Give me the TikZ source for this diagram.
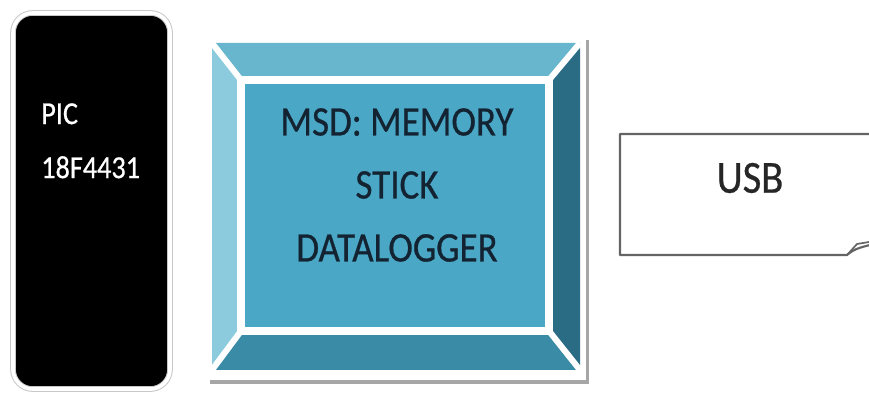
\documentclass[tikz,border=0pt]{standalone}
\usepackage{fontspec}
\setmainfont{Carlito}[FakeStretch=0.88, FakeBold=0.6]
\usepackage{xcolor}
\usetikzlibrary{positioning}

\definecolor{facetop}{RGB}{104,181,206}
\definecolor{faceleft}{RGB}{140,203,222}
\definecolor{faceright}{RGB}{42,108,132}
\definecolor{facebottom}{RGB}{58,140,166}
\definecolor{facemid}{RGB}{74,168,198}
\definecolor{msdink}{RGB}{20,35,50}
\definecolor{usbline}{RGB}{100,100,100}

\begin{document}
\begin{tikzpicture}[
      x=0.025cm, y=-0.025cm,
      chipbox/.style={draw=black!22, line width=0.7pt, double=white, double distance=2.6pt,
                      fill=black, rounded corners=14pt, minimum width=3.925cm,
                      minimum height=9.4cm, inner sep=0},
      chiptext/.style={text=white, align=left, inner sep=0,
                       font=\fontsize{22.8}{38.4}\selectfont},
      msdtext/.style={text=msdink, align=center, inner sep=0,
                      font=\fontsize{29.9}{44.8}\selectfont},
      usbtext/.style={text=black!85, inner sep=0, font=\fontsize{32.7}{38}\selectfont},
      seam/.style={white, line width=4.3pt},
    ]

    % ---- canvas ----
    \clip (0,0) rectangle (869,405);
    \fill[white] (0,0) rectangle (869,405);

    % ---- LEFT: PIC chip ----
    \node[chipbox] (chip) at (91.5,201) {};
    \node[chiptext, anchor=north west] (piclabel) at (41,103) {PIC\\18F4431};

    % ---- MIDDLE: bevelled MSD block ----
    \fill[black!35] (210,40) rectangle (589,384);
    \fill[white] (206,36) rectangle (586,380);
    \coordinate (o1) at (212,43);  \coordinate (o2) at (580,43);
    \coordinate (o3) at (580,370); \coordinate (o4) at (212,370);
    \coordinate (i1) at (241,80);  \coordinate (i2) at (549,80);
    \coordinate (i3) at (549,331); \coordinate (i4) at (241,331);
    \fill[facetop] (o1) -- (o2) -- (i2) -- (i1) -- cycle;
    \fill[faceright] (o2) -- (o3) -- (i3) -- (i2) -- cycle;
    \fill[facebottom] (o3) -- (o4) -- (i4) -- (i3) -- cycle;
    \fill[faceleft] (o4) -- (o1) -- (i1) -- (i4) -- cycle;
    \fill[facemid] (i1) rectangle (i3);
    % white seams between the faces
    \foreach \k in {1,2,3,4} {
      \draw[seam] (o\k) -- (i\k);
    }
    \draw[seam, line width=5pt] (i1) rectangle (i3);
    \node[msdtext] (msdlabel) at (397,185) {MSD: MEMORY\\STICK\\DATALOGGER};

    % ---- RIGHT: USB note with folded corner ----
    \draw[usbline, line width=1.5pt, line join=round]
      (900,134) -- (620,134) -- (620,255) -- (847,255)
      .. controls (856,248) .. (900,238);
    \draw[usbline, line width=1.2pt, line join=round]
      (847,255) -- (857,244) -- (869,242);
    \node[usbtext] (usblabel) at (750,178) {USB};

  \end{tikzpicture}
\end{document}
